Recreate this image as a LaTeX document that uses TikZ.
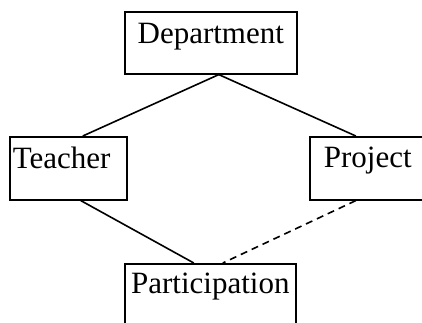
\documentclass[tikz,border=0pt]{standalone}
\usepackage{fontspec}
\setmainfont{Liberation Serif}
\begin{document}
\begin{tikzpicture}[x=1pt,y=-1pt,
  box/.style={draw, line width=1.6pt, inner xsep=0pt, inner ysep=0pt, anchor=north west, font=\fontsize{31}{37}\selectfont},
  link/.style={line width=1.6pt},
  dlink/.style={line width=1.6pt, dash pattern=on 7pt off 5pt}]
\useasboundingbox (0,0) rectangle (422,323);
\clip (0,0) rectangle (422,323);
\node[box, minimum width=172pt, text height=32pt, text depth=30pt] (dept) at (124,11) {Department};
\node[box, text width=111pt, inner xsep=3pt, align=left, text height=32pt, text depth=31pt] (teacher) at (9,136) {Teacher};
\node[box, minimum width=116pt, text height=31pt, text depth=32pt] (project) at (309,136) {Project};
\node[box, minimum width=171pt, text height=30pt, text depth=32pt] (part) at (124,263) {Participation};
\draw[link] ([xshift=8pt]dept.south) -- ([xshift=14.5pt]teacher.north);
\draw[link] ([xshift=8pt]dept.south) -- ([xshift=-12pt]project.north);
\draw[link] ([xshift=12.5pt]teacher.south) -- ([xshift=-16.5pt]part.north);
\draw[dlink] ([xshift=-12pt]project.south) -- ([xshift=12.5pt]part.north);
\end{tikzpicture}
\end{document}
